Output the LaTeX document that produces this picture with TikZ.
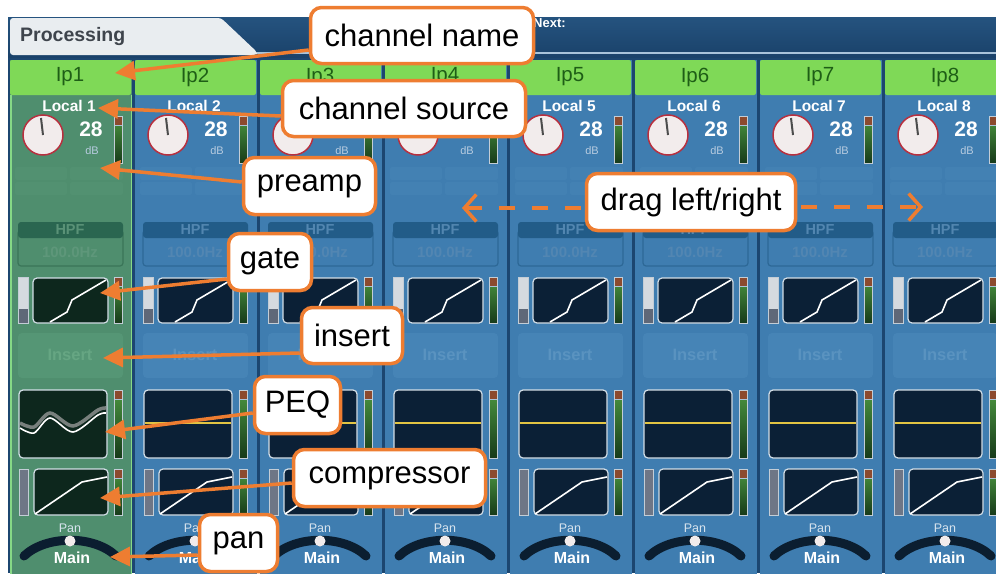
\documentclass[tikz,border=0pt]{standalone}
\usepackage{fontspec}
\setmainfont{Liberation Sans}
\usetikzlibrary{arrows.meta}
\definecolor{navy}{HTML}{1C4670}
\definecolor{topA}{HTML}{25537F}
\definecolor{topB}{HTML}{1A426A}
\definecolor{tabc}{HTML}{E9EDF0}
\definecolor{tabtxt}{HTML}{3E444C}
\definecolor{sepline}{HTML}{A9C3DA}
\definecolor{bodyB}{HTML}{3F7DB0}
\definecolor{bodyG}{HTML}{4F8E6E}
\definecolor{hdr}{HTML}{7FD957}
\definecolor{hdrtxt}{HTML}{1E5E16}
\definecolor{hpfB}{HTML}{225C88}
\definecolor{hpfG}{HTML}{2A6650}
\definecolor{hpftxtB}{HTML}{5286B0}
\definecolor{hpftxtG}{HTML}{5A9277}
\definecolor{boxB}{HTML}{3F7DB0}
\definecolor{boxG}{HTML}{4F8E6E}
\definecolor{boxbB}{HTML}{2D6896}
\definecolor{boxbG}{HTML}{3A7558}
\definecolor{hztxtB}{HTML}{5286B2}
\definecolor{hztxtG}{HTML}{5E977A}
\definecolor{insB}{HTML}{4684B6}
\definecolor{insG}{HTML}{559675}
\definecolor{instxtB}{HTML}{5A93C0}
\definecolor{instxtG}{HTML}{66A683}
\definecolor{faintB}{HTML}{4381B3}
\definecolor{faintG}{HTML}{529171}
\definecolor{graphB}{HTML}{0B2036}
\definecolor{graphG}{HTML}{0D271D}
\definecolor{gborder}{HTML}{D3DEE6}
\definecolor{mred}{HTML}{8C4A2E}
\definecolor{mgt}{HTML}{4B9640}
\definecolor{mgb}{HTML}{173A1A}
\definecolor{mborder}{HTML}{C3CDD6}
\definecolor{lmL}{HTML}{D5DADF}
\definecolor{lmD}{HTML}{5F6878}
\definecolor{cmet}{HTML}{6E7686}
\definecolor{arcdark}{HTML}{0B1E30}
\definecolor{orng}{HTML}{EE7D31}
\definecolor{gedge}{HTML}{86D986}
\definecolor{knobfill}{HTML}{F2ECEC}
\definecolor{knobedge}{HTML}{B8303F}
\definecolor{dbtxt}{HTML}{B8CCE0}
\definecolor{pantxt}{HTML}{D8E4EE}
\definecolor{peqline}{HTML}{E2C443}
\newcommand\vmeter[4]{%
  \shade[top color=mgt, bottom color=mgb] (#1,#2) rectangle (#3,#4);
  \fill[mred] (#1,#2) rectangle (#3,#2+9);
  \draw[sepline, line width=0.6pt] (#1,#2+9) -- (#3,#2+9);
  \draw[mborder, line width=0.8pt] (#1,#2) rectangle (#3,#4);
}
\tikzset{
  callout/.style={draw=orng, line width=3.5pt, fill=white, rounded corners=11pt,
    font=\fontsize{31}{36}\selectfont, text=black, inner sep=0pt},
  callarrow/.style={draw=orng, line width=3.5pt, -{Triangle[length=20pt,width=19pt]}},
  dragarrow/.style={draw=orng, line width=3.5pt, dash pattern=on 16pt off 17pt,
    -{Straight Barb[length=12pt,width=27pt]}},
  hdrtext/.style={text=hdrtxt, font=\fontsize{20.5}{22}\selectfont, inner sep=0pt},
  loctext/.style={text=white, font=\bfseries\fontsize{15.5}{17}\selectfont, inner sep=0pt},
  gaintext/.style={text=white, font=\bfseries\fontsize{21}{23}\selectfont, inner sep=0pt},
  dbtext/.style={text=dbtxt, font=\fontsize{11}{12}\selectfont, inner sep=0pt},
  knob/.style={circle, minimum size=40pt, inner sep=0pt, fill=knobfill, draw=knobedge, line width=1.5pt},
  gbox/.style={fill=cgraph, draw=gborder, line width=1.2pt, rounded corners=4pt},
}
\begin{document}
\begin{tikzpicture}[x=1pt,y=-1pt]
\useasboundingbox (0,0) rectangle (996,573);
\clip (0,0) rectangle (996,573);
\fill[white] (0,0) rectangle (996,573);
\fill[navy] (8,17) rectangle (996,573);
\shade[top color=topA, bottom color=topB] (8,17) rectangle (996,57);
% Processing tab
\fill[tabc, rounded corners=3pt] (10,55) -- (10,18) -- (221,18) -- (257,52) -- (257,55) -- cycle;
\node[anchor=west, text=tabtxt, font=\bfseries\fontsize{19.5}{22}\selectfont, inner sep=0pt] (proc) at (20,37) {Processing};
\draw[sepline, line width=1.5pt] (257,53) -- (996,53);
\node[anchor=west, text=white, font=\bfseries\fontsize{13}{14}\selectfont, inner sep=0pt] (next) at (533,23) {Next:};
% channel strips
\foreach \i in {1,...,8}{
  \pgfmathsetmacro\xo{10+125*(\i-1)}
  \ifnum\i=1
    \colorlet{cb}{bodyG}\colorlet{chpf}{hpfG}\colorlet{chpft}{hpftxtG}\colorlet{cbox}{boxG}%
    \colorlet{cboxb}{boxbG}\colorlet{chz}{hztxtG}\colorlet{cins}{insG}\colorlet{cinst}{instxtG}%
    \colorlet{cfaint}{faintG}\colorlet{cgraph}{graphG}%
  \else
    \colorlet{cb}{bodyB}\colorlet{chpf}{hpfB}\colorlet{chpft}{hpftxtB}\colorlet{cbox}{boxB}%
    \colorlet{cboxb}{boxbB}\colorlet{chz}{hztxtB}\colorlet{cins}{insB}\colorlet{cinst}{instxtB}%
    \colorlet{cfaint}{faintB}\colorlet{cgraph}{graphB}%
  \fi
  \begin{scope}[shift={(\xo,0)}]
    \fill[cb] (0,60) rectangle (122,575);
    \ifnum\i=1 \draw[gedge, line width=1.5pt] (0.75,95) -- (0.75,575) (121.25,95) -- (121.25,575); \fi
    \fill[hdr, rounded corners=2pt] (0,60) rectangle (121,95);
    \node[hdrtext] (hd\i) at (60,77) {Ip\i};
    \node[loctext] (loc\i) at (59,106) {Local \i};
    \node[knob] (kn\i) at (33,135) {};
    \draw[line width=2pt, black!70] (kn\i.center) -- ++(-2,-17);
    \node[gaintext] (gn\i) at (81,129) {28};
    \node[dbtext] (db\i) at (82,151) {dB};
    \vmeter{104}{116}{112}{163}
    % faint preamp buttons
    \fill[cfaint, rounded corners=2pt] (5,167) rectangle (57,180) (60,167) rectangle (113,180)
      (5,182) rectangle (57,195) (60,182) rectangle (113,195);
    % HPF
    \draw[cboxb, fill=cbox, line width=1.2pt, rounded corners=3pt] (8,230) rectangle (113,266);
    \fill[chpf, rounded corners=3pt] (8,222) rectangle (113,238);
    \node[text=chpft, font=\bfseries\fontsize{14.5}{15}\selectfont, inner sep=0pt] (hpf\i) at (60,230) {HPF};
    \node[text=chz, font=\bfseries\fontsize{15}{16}\selectfont, inner sep=0pt] (hz\i) at (60,252) {100.0Hz};
    % gate
    \fill[lmL] (8,277) rectangle (18,309);
    \fill[lmD] (8,309) rectangle (18,323);
    \draw[mborder, line width=0.8pt] (8,277) rectangle (18,323);
    \draw[gbox] (23,278) rectangle (98,323);
    \draw[white, line width=1.6pt] (40,322) -- (57,312) -- (62,300) -- (96,280);
    \vmeter{104}{277}{112}{323}
    % insert
    \fill[cins, rounded corners=4pt] (8,333) rectangle (113,378);
    \node[text=cinst, font=\bfseries\fontsize{16.5}{18}\selectfont, inner sep=0pt] (ins\i) at (60,355) {Insert};
    % PEQ
    \draw[gbox] (9,390) rectangle (97,458);
    \ifnum\i=1
      \draw[black!35, line width=3.5pt, opacity=0.7] plot[smooth] coordinates {(10,423) (24,427) (40,413) (63,426) (88,410) (96,408)};
      \draw[white, line width=1.6pt] plot[smooth] coordinates {(10,428) (24,433) (40,418) (63,432) (88,415) (96,413)};
    \else
      \draw[peqline, line width=1.6pt] (9.6,423) -- (96.4,423);
    \fi
    \vmeter{104}{390}{112}{458}
    % compressor
    \fill[cmet] (9,469) rectangle (18,515);
    \draw[mborder, line width=0.8pt] (9,469) rectangle (18,515);
    \draw[gbox] (24,469) rectangle (98,515);
    \draw[white, line width=1.6pt] (25,514) -- (72,482) -- (97,477);
    \vmeter{104}{469}{112}{515}
    % pan
    \node[text=pantxt, font=\fontsize{12.5}{13}\selectfont, inner sep=0pt] (pan\i) at (60,528) {Pan};
    \draw[arcdark, line width=9pt, line cap=round] (14,556) .. controls (36,535) and (84,535) .. (106,556);
    \fill[knobfill] (60,541) circle (5.5);
    \node[text=white, font=\bfseries\fontsize{16}{17}\selectfont, inner sep=0pt] (mn\i) at (62,558) {Main};
  \end{scope}
}
% callout targets
\coordinate (tname) at (115,73);
\coordinate (tsrc) at (98,108);
\coordinate (tpre) at (100,168);
\coordinate (tgate) at (100,293);
\coordinate (tins) at (103,358);
\coordinate (tpeq) at (105,432);
\coordinate (tcomp) at (100,498);
\coordinate (tpan) at (110,557);
\coordinate (tdl) at (462,208);
\coordinate (tdr) at (923,207);
% callout boxes
\node[callout, minimum width=223pt, minimum height=56pt] (cname) at (422,35.5) {channel name};
\node[callout, minimum width=243pt, minimum height=56pt] (csrc) at (404,108.5) {channel source};
\node[callout, minimum width=132pt, minimum height=57pt] (cpre) at (309.5,186) {preamp};
\node[callout, minimum width=209pt, minimum height=57pt] (cdrag) at (691,202) {drag left/right};
\node[callout, minimum width=83pt, minimum height=57pt] (cgate) at (270,262) {gate};
\node[callout, minimum width=101pt, minimum height=56pt] (cins) at (352,335.5) {insert};
\node[callout, minimum width=86pt, minimum height=57pt] (cpeq) at (297.5,405) {PEQ};
\node[callout, minimum width=192pt, minimum height=57pt] (ccomp) at (389.5,478) {compressor};
\node[callout, minimum width=78pt, minimum height=57pt] (cpan) at (238.5,543) {pan};
% connectors
\draw[callarrow] ([yshift=-14.5pt]cname.west) -- (tname);
\draw[callarrow] ([yshift=-7.5pt]csrc.west) -- (tsrc);
\draw[callarrow] ([yshift=4pt]cpre.west) -- (tpre);
\draw[callarrow] ([yshift=-17pt]cgate.west) -- (tgate);
\draw[callarrow] ([yshift=-17.5pt]cins.west) -- (tins);
\draw[callarrow] ([yshift=-8pt]cpeq.west) -- (tpeq);
\draw[callarrow] ([yshift=-5pt]ccomp.west) -- (tcomp);
\draw[callarrow] ([yshift=-12pt]cpan.west) -- (tpan);
\draw[dragarrow] ([yshift=-6pt,xshift=-4pt]cdrag.west) -- (tdl);
\draw[dragarrow] ([yshift=-5pt,xshift=4pt]cdrag.east) -- (tdr);
\end{tikzpicture}
\end{document}
